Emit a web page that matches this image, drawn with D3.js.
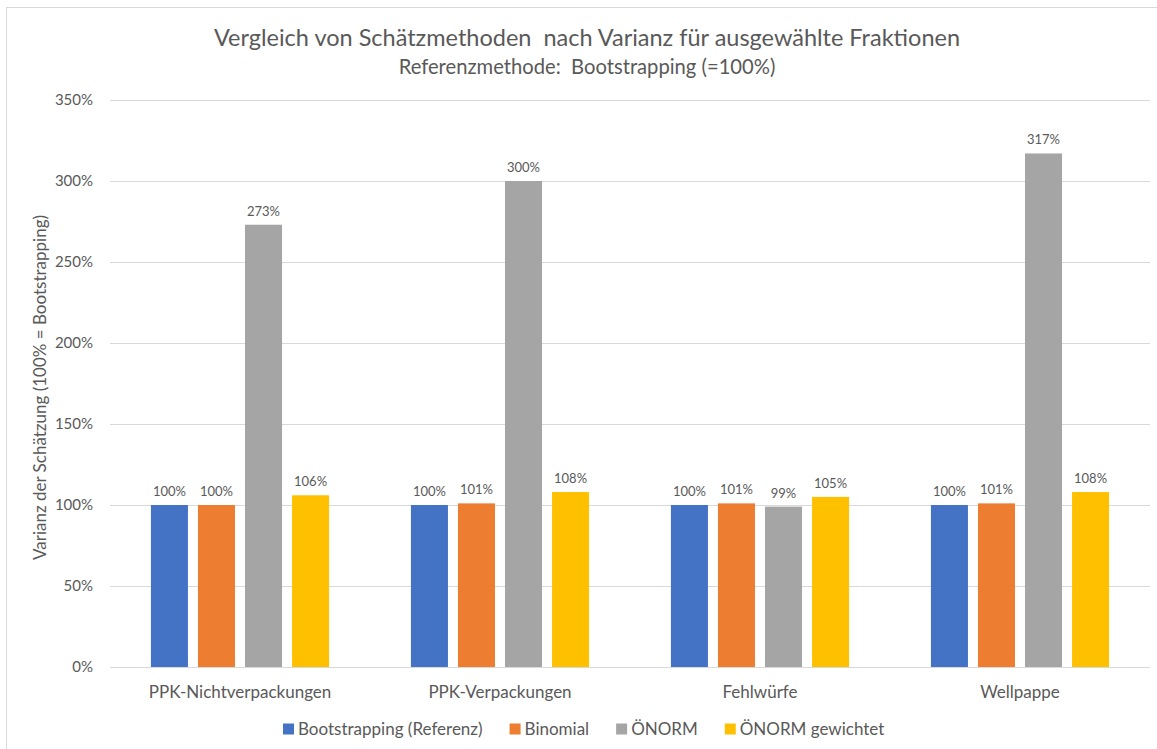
<!DOCTYPE html>
<html>
<head>
<meta charset="utf-8">
<script src="https://cdn.jsdelivr.net/npm/d3@7"></script>
<style>
  body { margin: 0; background: #fff; }
  svg { display: block; font-family: Lato, "Open Sans", sans-serif; }
  text { white-space: pre; }
</style>
</head>
<body>
<svg id="chart" width="1157" height="749"></svg>
<script>
// categories and series
var categories = ['PPK-Nichtverpackungen', 'PPK-Verpackungen', 'Fehlwürfe', 'Wellpappe'];
var seriesNames = ['Bootstrapping (Referenz)', 'Binomial', 'ÖNORM', 'ÖNORM gewichtet'];
var bootstrapping = [100, 100, 100, 100];
var binomial = [100, 101, 101, 101];
var onorm = [273, 300, 99, 317];
var onormGewichtet = [106, 108, 105, 108];
var yTicks = [0, 50, 100, 150, 200, 250, 300, 350];
var colors = ['#4472C4', '#ED7D31', '#A5A5A5', '#FFC000'];

var seriesValues = [bootstrapping, binomial, onorm, onormGewichtet];

var svg = d3.select('#chart');
var textColor = '#595959';

// outer chart border (only left/top visible in the crop)
svg.append('rect')
    .attr('x', 6.5).attr('y', 7.5)
    .attr('width', 1200).attr('height', 800)
    .attr('fill', 'none')
    .attr('stroke', '#d9d9d9')
    .attr('stroke-width', 1);

var margin = {left: 110, right: 7, top: 100, bottom: 82};
var plotW = 1157 - margin.left - margin.right;
var plotH = 749 - margin.top - margin.bottom;

var g = svg.append('g').attr('transform', 'translate(' + margin.left + ',' + margin.top + ')');

var x0 = d3.scaleBand().domain(categories).range([0, plotW]).padding(0);
var x1 = d3.scaleBand().domain(seriesNames).range([0, x0.bandwidth()])
    .paddingInner(0.213).paddingOuter(0.87);
var y = d3.scaleLinear().domain([0, 350]).range([plotH, 0]);

// gridlines
g.selectAll('line.grid').data(yTicks).enter().append('line')
    .attr('class', 'grid')
    .attr('x1', 0).attr('x2', plotW)
    .attr('y1', function (d) { return Math.round(y(d)) + 0.5; })
    .attr('y2', function (d) { return Math.round(y(d)) + 0.5; })
    .attr('stroke', '#d9d9d9')
    .attr('stroke-width', 1);

// y axis labels
var yAxis = d3.axisLeft(y).tickValues(yTicks).tickSize(0).tickPadding(17)
    .tickFormat(function (d) { return d + '%'; });
var yg = g.append('g').call(yAxis);
yg.select('.domain').remove();
yg.selectAll('text').attr('fill', textColor).style('font-size', '15px').style('font-family', 'Lato, sans-serif');

// bars
var groups = g.selectAll('g.cat').data(categories).enter().append('g')
    .attr('class', 'cat')
    .attr('transform', function (d) { return 'translate(' + x0(d) + ',0)'; });

groups.each(function (cat, ci) {
    var rows = seriesNames.map(function (s, si) {
        return {series: s, value: seriesValues[si][ci], color: colors[si]};
    });
    var sel = d3.select(this);
    sel.selectAll('rect').data(rows).enter().append('rect')
        .attr('x', function (d) { return x1(d.series); })
        .attr('y', function (d) { return y(d.value); })
        .attr('width', x1.bandwidth())
        .attr('height', function (d) { return plotH - y(d.value); })
        .attr('fill', function (d) { return d.color; });
    sel.selectAll('text').data(rows).enter().append('text')
        .attr('x', function (d) { return x1(d.series) + x1.bandwidth() / 2; })
        .attr('y', function (d) { return y(d.value) - 9; })
        .attr('text-anchor', 'middle')
        .attr('fill', textColor)
        .style('font-size', '13px')
        .text(function (d) { return d.value + '%'; });
});

// x axis labels
var xAxis = d3.axisBottom(x0).tickSize(0).tickPadding(19);
var xg = g.append('g').attr('transform', 'translate(0,' + plotH + ')').call(xAxis);
xg.select('.domain').remove();
xg.selectAll('text').attr('fill', textColor).style('font-size', '17px').style('font-family', 'Lato, sans-serif');

// titles
svg.append('text')
    .attr('x', 587).attr('y', 46)
    .attr('text-anchor', 'middle')
    .attr('fill', textColor)
    .style('font-size', '23.5px')
    .text('Vergleich von Schätzmethoden  nach Varianz für ausgewählte Fraktionen');
svg.append('text')
    .attr('x', 587).attr('y', 74)
    .attr('text-anchor', 'middle')
    .attr('fill', textColor)
    .style('font-size', '20.2px')
    .text('Referenzmethode:  Bootstrapping (=100%)');

// y axis title
svg.append('text')
    .attr('transform', 'translate(46,' + (margin.top + plotH / 2 + 4) + ') rotate(-90)')
    .attr('text-anchor', 'middle')
    .attr('fill', textColor)
    .style('font-size', '17px')
    .text('Varianz der Schätzung (100% = Bootstrapping)');

// legend
var legend = svg.append('g').attr('transform', 'translate(283,729)');
var lx = 0;
seriesNames.forEach(function (name, i) {
    var item = legend.append('g').attr('transform', 'translate(' + lx + ',0)');
    item.append('rect')
        .attr('x', 0).attr('y', -5.5)
        .attr('width', 11).attr('height', 11)
        .attr('fill', colors[i]);
    var t = item.append('text')
        .attr('x', 15).attr('y', 6)
        .attr('fill', textColor)
        .style('font-size', '17px')
        .text(name);
    lx += 15 + t.node().getComputedTextLength() + 27;
});
</script>
</body>
</html>
